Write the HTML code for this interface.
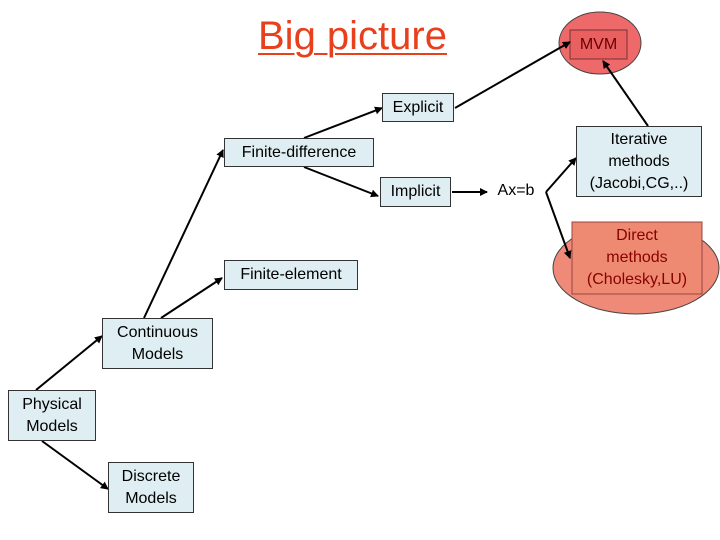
<!DOCTYPE html>
<html><head><style>
body{margin:0;background:#fff;}
.b{position:absolute;background:#dfeef2;border:1px solid #333;box-sizing:border-box;font:16px "Liberation Sans",sans-serif;text-align:center;display:flex;align-items:center;justify-content:center;line-height:22px;color:#000}
</style></head><body>
<div style="position:relative;width:720px;height:540px;overflow:hidden">
<svg width="720" height="540" style="position:absolute;left:0;top:0">
<defs><marker id="a" markerWidth="8" markerHeight="8" refX="7" refY="4" orient="auto" markerUnits="userSpaceOnUse"><path d="M0,0L8,4L0,8z" fill="#000"/></marker></defs>
<ellipse cx="600" cy="43" rx="41" ry="31" fill="#ee6a6a" stroke="#444"/>
<rect x="570" y="30" width="57" height="29" fill="#ea6060" stroke="#733"/>
<ellipse cx="636" cy="268" rx="83" ry="46" fill="#ef8a78" stroke="#444"/>
<rect x="572" y="222" width="130" height="72" fill="#ef8a72" stroke="#944"/>
<g stroke="#000" stroke-width="2" fill="none" marker-end="url(#a)">
<line x1="36" y1="390" x2="102" y2="336"/>
<line x1="42" y1="441" x2="108" y2="489"/>
<line x1="144" y1="318" x2="223" y2="150"/>
<line x1="161" y1="318" x2="222" y2="278"/>
<line x1="304" y1="138" x2="382" y2="108"/>
<line x1="304" y1="167" x2="378" y2="196"/>
<line x1="455" y1="108" x2="570" y2="42"/>
<line x1="452" y1="192" x2="487" y2="192"/>
<line x1="546" y1="192" x2="576" y2="158"/>
<line x1="546" y1="192" x2="570" y2="258"/>
<line x1="648" y1="126" x2="603" y2="61"/>
</g>
</svg>
<div style="position:absolute;left:258px;top:14px;font:40px 'Liberation Sans',sans-serif;color:#e8401c;text-decoration:underline;text-decoration-thickness:2px;text-underline-offset:4px">Big picture</div>
<div style="position:absolute;left:570px;top:30px;width:57px;height:29px;display:flex;align-items:center;justify-content:center;font:16px 'Liberation Sans',sans-serif;color:#600">MVM</div>
<div style="position:absolute;left:572px;top:222px;width:130px;height:72px;display:flex;align-items:center;justify-content:center;text-align:center;font:16px 'Liberation Sans',sans-serif;line-height:22px;color:#800">Direct<br>methods<br>(Cholesky,LU)</div>
<div class="b" style="left:224px;top:138px;width:150px;height:29px">Finite-difference</div>
<div class="b" style="left:224px;top:260px;width:134px;height:30px">Finite-element</div>
<div class="b" style="left:102px;top:318px;width:111px;height:51px">Continuous<br>Models</div>
<div class="b" style="left:8px;top:390px;width:88px;height:51px">Physical<br>Models</div>
<div class="b" style="left:108px;top:462px;width:86px;height:51px">Discrete<br>Models</div>
<div class="b" style="left:382px;top:93px;width:72px;height:29px">Explicit</div>
<div class="b" style="left:380px;top:177px;width:71px;height:30px">Implicit</div>
<div class="b" style="left:576px;top:126px;width:126px;height:71px">Iterative<br>methods<br>(Jacobi,CG,..)</div>
<div style="position:absolute;left:490px;top:182px;width:52px;text-align:center;font:16px 'Liberation Sans',sans-serif">Ax=b</div>
</div>
</body></html>
